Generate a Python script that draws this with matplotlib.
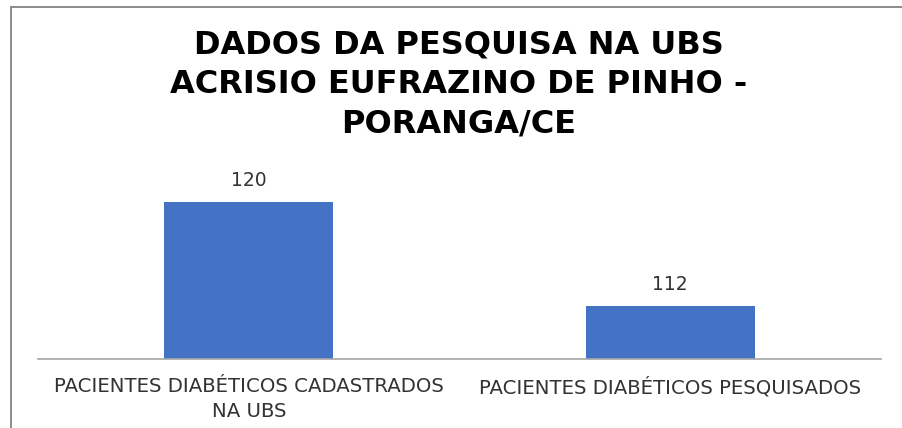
import matplotlib
matplotlib.use("Agg")
import matplotlib.pyplot as plt
from matplotlib.lines import Line2D

# ---- data ----
categories = ["PACIENTES DIABÉTICOS CADASTRADOS\nNA UBS", "PACIENTES DIABÉTICOS PESQUISADOS"]
values = [120, 112]
value_labels = ["120", "112"]
title = "DADOS DA PESQUISA NA UBS\nACRISIO EUFRAZINO DE PINHO -\nPORANGA/CE"

plt.rcParams['font.family'] = ['DejaVu Sans']

W, H = 902, 428
fig = plt.figure(figsize=(W / 100, H / 100), dpi=100)
fig.patch.set_facecolor("white")

# axes placement (pixels -> fractions)
ax_left, ax_right = 38, 881
ax_base, ax_top = 358.5, 176.5
ax = fig.add_axes([ax_left / W, (H - ax_base) / H, (ax_right - ax_left) / W, (ax_base - ax_top) / H])

x = list(range(len(categories)))
bars = ax.bar(x, values, width=0.4, color="#4472C4", zorder=2)
ax.set_xlim(-0.5, len(categories) - 0.5)
ax.set_ylim(108, 122)

for rect, lab in zip(bars, value_labels):
    ax.annotate(lab, (rect.get_x() + rect.get_width() / 2, rect.get_height()),
                xytext=(0, 9), textcoords="offset points", ha="center", va="bottom",
                fontsize=13.5, color="#333333")

ax.set_xticks(x)
ax.set_xticklabels(categories, fontsize=14.2, color="#333333", linespacing=1.4)
ax.tick_params(axis="x", length=0, pad=13)
ax.set_yticks([])
for s in ["left", "right", "top"]:
    ax.spines[s].set_visible(False)
ax.spines["bottom"].set_color("#a6a6a6")
ax.spines["bottom"].set_linewidth(1.2)
ax.patch.set_alpha(0)

# title
fig.text(459 / W, 1 - 29 / H, title, ha="center", va="top", fontsize=23,
         fontweight="bold", color="#000000", linespacing=1.36)

# chart border (left and top edges visible)
bx, by = 11.3, 6.5
fig.add_artist(Line2D([bx / W, bx / W], [0, 1 - by / H], transform=fig.transFigure,
                      color="#8c8c8c", linewidth=1.4))
fig.add_artist(Line2D([bx / W, 1], [1 - by / H, 1 - by / H], transform=fig.transFigure,
                      color="#8c8c8c", linewidth=1.4))

fig.savefig("out.png", dpi=100, facecolor="white")
